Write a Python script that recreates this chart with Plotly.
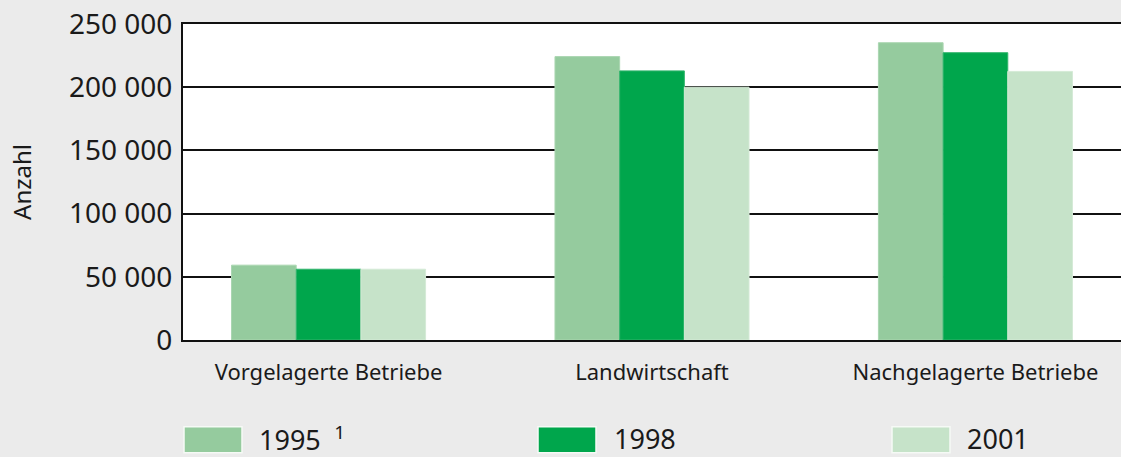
import plotly.graph_objects as go

categories = ["Vorgelagerte Betriebe", "Landwirtschaft", "Nachgelagerte Betriebe"]
series_names = ["1995", "1998", "2001"]
legend_labels = ["1995&#8194;<sup>1</sup>", "1998", "2001"]
values_1995 = [59200, 224200, 235200]
values_1998 = [56000, 212900, 227300]
values_2001 = [56000, 200000, 212500]
y_ticks = [0, 50000, 100000, 150000, 200000, 250000]

colors = ["#95CB9E", "#00A64C", "#C6E3C9"]
outline = ["#AAD6B1", "#33B56D", "#D4EAD6"]

W, H = 1121, 457
L, R, T, B = 183, 0, 23.5, 117
PW = W - L - R
PH = H - T - B

def px_x(x):
    return (x - L) / PW

def px_y(y):
    return (H - B - y) / PH

fig = go.Figure()
for name, vals, c, oc in zip(series_names, [values_1995, values_1998, values_2001], colors, outline):
    fig.add_trace(go.Bar(
        x=categories, y=vals, name=name,
        marker=dict(color=c, line=dict(color=oc, width=1)),
        showlegend=False, hoverinfo="x+y+name",
    ))

FONT = "Noto Sans, Open Sans, sans-serif"

shapes = []
annotations = []
legend_pos = [(184, 257), (538, 612), (892, 965)]
for (sx, tx), c, oc, lab in zip(legend_pos, colors, outline, legend_labels):
    shapes.append(dict(
        type="rect", xref="paper", yref="paper",
        x0=px_x(sx), x1=px_x(sx + 58), y0=px_y(427), y1=px_y(453),
        fillcolor=c, line=dict(color="#F6FAF6", width=1.5), layer="above",
    ))
    annotations.append(dict(
        text=lab, xref="paper", yref="paper", x=px_x(tx), y=px_y(439),
        xanchor="left", yanchor="middle", showarrow=False,
        font=dict(family=FONT, size=27, color="#1a1a1a"),
    ))

fig.update_layout(
    width=W, height=H,
    margin=dict(l=L, r=R, t=T, b=B, pad=0),
    paper_bgcolor="#EBEBEB", plot_bgcolor="#FFFFFF",
    barmode="group", bargap=0.4, bargroupgap=0,
    separators=", ",
    font=dict(family=FONT, color="#1a1a1a"),
    shapes=shapes, annotations=annotations,
    xaxis=dict(
        type="category", range=[-0.45, 2.45],
        showline=True, linecolor="#111111", linewidth=2, mirror=True,
        showgrid=False, ticks="", ticklabelstandoff=12,
        tickfont=dict(family=FONT, size=22, color="#1a1a1a"),
        fixedrange=True,
    ),
    yaxis=dict(
        range=[0, 250000], tickvals=y_ticks, tickformat=",d",
        showline=True, linecolor="#111111", linewidth=2,
        showgrid=True, gridcolor="#111111", gridwidth=2,
        zeroline=False, ticks="", ticklabelstandoff=3,
        tickfont=dict(family=FONT, size=28, color="#1a1a1a"),
        title=dict(text="Anzahl", font=dict(family=FONT, size=24, color="#1a1a1a"), standoff=31),
        fixedrange=True,
    ),
)

fig.write_html(
    "out.html",
    config={"displayModeBar": False},
    post_script="document.body.style.margin='0';document.body.style.padding='0';"
                "document.body.style.background='#EBEBEB';"
                "document.documentElement.style.background='#EBEBEB';",
)
